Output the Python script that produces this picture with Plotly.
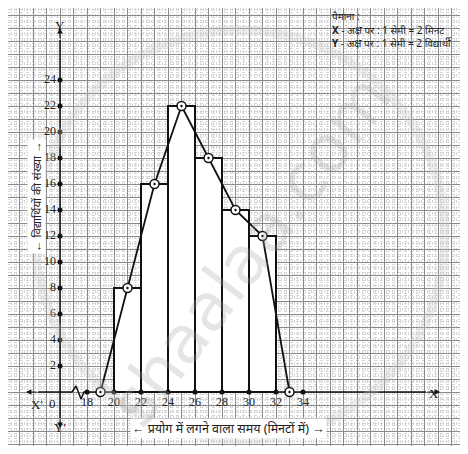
import plotly.graph_objects as go

# class intervals (minutes) and number of students
class_lower = [20, 22, 24, 26, 28, 30]
class_width = 2
students = [8, 16, 22, 18, 14, 12]

# frequency polygon: mid-points incl. the empty classes at both ends
poly_mid = [19, 21, 23, 25, 27, 29, 31, 33]
poly_freq = [0, 8, 16, 22, 18, 14, 12, 0]

x_ticks = [18, 20, 22, 24, 26, 28, 30, 32, 34]
y_ticks = [2, 4, 6, 8, 10, 12, 14, 16, 18, 20, 22, 24]

scale_lines = [
    "पैमाना :",
    "<b>X</b> - अक्ष पर : 1 सेमी = 2 मिनट",
    "<b>Y</b> - अक्ष पर : 1 सेमी = 2 विद्यार्थी",
]

# axis is broken between 0 and 18: plotted position = value - 16
X_SHIFT = 16
PAGE_W, PAGE_H = 468, 454
PAD = 8                       # page body margin
W, H = PAGE_W - 2 * PAD, PAGE_H - 2 * PAD
PX_X, PX_Y = 13.5, 13.0       # pixels per unit
ORIGIN = (60, 392)            # page pixel position of the origin


def ux(px):
    return (px - ORIGIN[0]) / PX_X


def uy(py):
    return (ORIGIN[1] - py) / PX_Y


def paper_x(px):
    return (px - PAD) / W


def paper_y(py):
    return 1 - (py - PAD) / H


serif = "Liberation Serif"
hindi = "Noto Sans, Noto Sans Devanagari, sans-serif"

fig = go.Figure()

# histogram bars
fig.add_trace(go.Bar(
    x=[lo + class_width / 2 - X_SHIFT for lo in class_lower], y=students,
    width=class_width, marker=dict(color="white", line=dict(color="#111", width=2)),
    hoverinfo="skip",
))

# axes drawn as lines (x axis with the break mark)
fig.add_trace(go.Scatter(
    x=[ux(38), ux(72), ux(76), ux(81), ux(84), ux(426)],
    y=[0, 0, uy(386), uy(399), 0, 0],
    mode="lines", line=dict(color="#111", width=1.5), hoverinfo="skip",
))
fig.add_trace(go.Scatter(
    x=[0, 0], y=[uy(418), uy(40)],
    mode="lines", line=dict(color="#111", width=1.5), hoverinfo="skip",
))

# tick dots
fig.add_trace(go.Scatter(
    x=[t - X_SHIFT for t in x_ticks], y=[0] * len(x_ticks), mode="markers",
    marker=dict(color="#111", size=5), hoverinfo="skip",
))
fig.add_trace(go.Scatter(
    x=[0] * len(y_ticks), y=y_ticks, mode="markers",
    marker=dict(color="#111", size=5), hoverinfo="skip",
))

# frequency polygon
fig.add_trace(go.Scatter(
    x=[m - X_SHIFT for m in poly_mid], y=poly_freq, mode="lines+markers",
    line=dict(color="#111", width=1.8),
    marker=dict(symbol="circle-dot", size=9, color="white",
                line=dict(color="#111", width=1.5)),
    hoverinfo="skip",
))

# tick labels
fig.add_trace(go.Scatter(
    x=[t - X_SHIFT for t in x_ticks], y=[uy(403)] * len(x_ticks),
    mode="text", text=[str(t) for t in x_ticks],
    textfont=dict(family=serif, size=12, color="#222"), hoverinfo="skip",
))
fig.add_trace(go.Scatter(
    x=[ux(56)] * len(y_ticks), y=y_ticks, mode="text",
    text=[str(t) for t in y_ticks], textposition="middle left",
    textfont=dict(family=serif, size=12, color="#222"), hoverinfo="skip",
))

ann = [
    dict(x=ux(52), y=uy(403), text="0"),
    dict(x=ux(37), y=uy(404), text="X'"),
    dict(x=ux(434), y=uy(393), text="X"),
    dict(x=ux(60), y=uy(25), text="Y"),
    dict(x=ux(60), y=uy(427), text="Y'"),
]
for a in ann:
    fig.add_annotation(**a, showarrow=False,
                       font=dict(family=serif, size=13, color="#222"))

# arrowheads on the axes
for (x0, y0, x1, y1) in [(ux(426), 0, ux(440), 0), (ux(38), 0, ux(26), 0),
                         (0, uy(40), 0, uy(28)), (0, uy(418), 0, uy(428))]:
    fig.add_annotation(x=x1, y=y1, ax=x0, ay=y0, xref="x", yref="y",
                       axref="x", ayref="y", text="", showarrow=True,
                       arrowhead=2, arrowsize=0.9, arrowwidth=1.2,
                       arrowcolor="#111", standoff=0)

# axis titles
fig.add_annotation(x=ux(228), y=uy(428), showarrow=False, bgcolor="white",
                   text="← प्रयोग में लगने वाला समय (मिनटों में) →",
                   font=dict(family=hindi, size=12.5, color="#222"))
fig.add_annotation(x=ux(36), y=uy(197), showarrow=False, bgcolor="white",
                   textangle=-90, text="← विद्यार्थियों की संख्या →",
                   font=dict(family=hindi, size=11.5, color="#222"))

# scale box
fig.add_shape(type="rect", xref="paper", yref="paper", layer="between",
              x0=paper_x(322), x1=1, y0=paper_y(57), y1=1,
              fillcolor="white", line=dict(width=0))
for i, line in enumerate(scale_lines):
    fig.add_annotation(xref="paper", yref="paper", x=paper_x(331),
                       y=paper_y(16 + 13.5 * i), xanchor="left", yanchor="middle",
                       showarrow=False, text=line, borderpad=0,
                       font=dict(family=hindi, size=10, color="#222"))

# bottom white strip below the graph paper
fig.add_shape(type="rect", xref="paper", yref="paper", layer="between",
              x0=0, x1=1, y0=0, y1=paper_y(443), fillcolor="white",
              line=dict(width=0))

# watermark
fig.add_shape(type="circle", xref="paper", yref="paper", layer="above",
              x0=paper_x(35), x1=paper_x(445), y0=paper_y(440), y1=paper_y(30),
              line=dict(color="rgba(200,200,200,0.3)", width=9))
fig.add_annotation(xref="paper", yref="paper", x=paper_x(250), y=paper_y(250),
                   text="shaalaa.com", textangle=-53, showarrow=False,
                   font=dict(family="DejaVu Sans", size=66,
                             color="rgba(160,160,160,0.28)"))

grid_major = dict(showgrid=True, gridcolor="#8a8a8a", gridwidth=1, dtick=1,
                  zeroline=False, showticklabels=False, ticks="",
                  minor=dict(showgrid=True, gridcolor="#d6d6d6", gridwidth=0.6,
                             dtick=0.2, griddash="dot"))
fig.update_xaxes(range=[ux(PAD), ux(PAGE_W - PAD)], tick0=0, **grid_major)
fig.update_yaxes(range=[uy(PAGE_H - PAD), uy(PAD)], tick0=0, **grid_major)

fig.update_layout(
    width=W, height=H, margin=dict(l=0, r=0, t=0, b=0),
    paper_bgcolor="white", plot_bgcolor="white", showlegend=False,
    bargap=0,
)

fig.write_html("out.html")
